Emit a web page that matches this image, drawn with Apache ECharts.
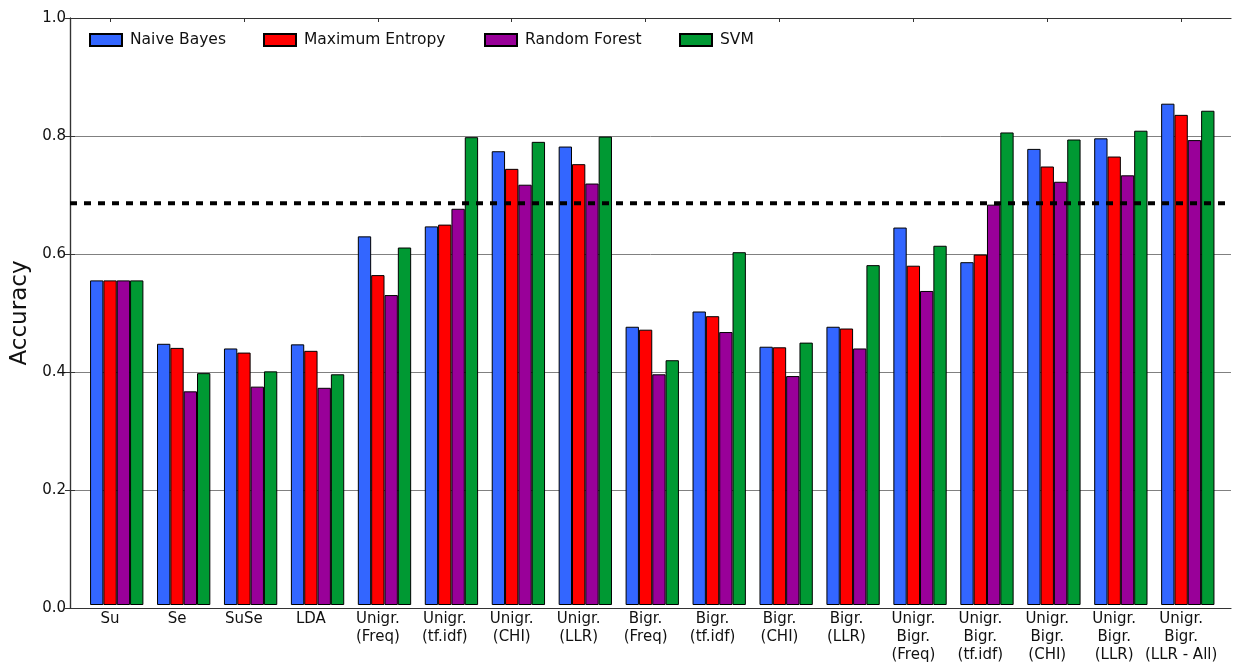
<!DOCTYPE html>
<html>
<head>
<meta charset="utf-8">
<script src="https://cdn.jsdelivr.net/npm/echarts@6/dist/echarts.min.js"></script>
<style>
  html, body { margin: 0; padding: 0; background: #fff; }
  #main { width: 1235px; height: 664px; }
</style>
</head>
<body>
<div id="main"></div>
<script>
// categories on the x axis
var categories = [
  'Su', 'Se', 'SuSe', 'LDA',
  'Unigr.\n(Freq)', 'Unigr.\n(tf.idf)', 'Unigr.\n(CHI)', 'Unigr.\n(LLR)',
  'Bigr.\n(Freq)', 'Bigr.\n(tf.idf)', 'Bigr.\n(CHI)', 'Bigr.\n(LLR)',
  'Unigr.\nBigr.\n(Freq)', 'Unigr.\nBigr.\n(tf.idf)', 'Unigr.\nBigr.\n(CHI)',
  'Unigr.\nBigr.\n(LLR)', 'Unigr.\nBigr.\n(LLR - All)'
];

var naiveBayes     = [0.553, 0.445, 0.437, 0.444, 0.628, 0.645, 0.773, 0.781, 0.474, 0.500, 0.440, 0.474, 0.643, 0.584, 0.777, 0.795, 0.854];
var maxEntropy     = [0.553, 0.438, 0.430, 0.433, 0.562, 0.648, 0.743, 0.751, 0.469, 0.492, 0.439, 0.471, 0.578, 0.597, 0.747, 0.764, 0.835];
var randomForest   = [0.553, 0.364, 0.372, 0.370, 0.528, 0.675, 0.716, 0.718, 0.393, 0.465, 0.390, 0.437, 0.535, 0.682, 0.721, 0.732, 0.792];
var svm            = [0.553, 0.395, 0.398, 0.393, 0.609, 0.797, 0.789, 0.798, 0.417, 0.601, 0.447, 0.579, 0.612, 0.805, 0.793, 0.808, 0.842];

var baseline = 0.686;   // dashed reference line

var names  = ['Naive Bayes', 'Maximum Entropy', 'Random Forest', 'SVM'];
var colors = ['#3366ff', '#ff0000', '#990099', '#009933'];
var values = [naiveBayes, maxEntropy, randomForest, svm];

var chart = echarts.init(document.getElementById('main'));
var font = 'DejaVu Sans';
var spine = '#333';

var barSeries = values.map(function (v, i) {
  return {
    name: names[i],
    type: 'bar',
    xAxisIndex: 1,
    yAxisIndex: 2,
    data: v,
    barWidth: 13.33,
    barGap: '0%',
    z: 3,
    itemStyle: { color: colors[i], borderColor: '#000', borderWidth: 1 }
  };
});

// empty slot first, so the group sits right of the tick like in matplotlib
var spacer = {
  name: 'spacer',
  type: 'bar',
  xAxisIndex: 1,
  yAxisIndex: 2,
  data: categories.map(function () { return '-'; }),
  barWidth: 13.33,
  barGap: '0%',
  silent: true,
  itemStyle: { color: 'transparent' }
};

var legendLeft = [84, 258, 479, 674];

var option = {
  backgroundColor: '#fff',
  animation: false,
  textStyle: { fontFamily: font },
  legend: names.map(function (n, i) {
    return {
      data: [n],
      left: legendLeft[i],
      top: 27,
      itemWidth: 32,
      itemHeight: 12,
      icon: 'rect',
      selectedMode: false,
      textStyle: { fontFamily: font, fontSize: 15.5, color: '#111', padding: [0, 0, 0, 3] }
    };
  }),
  grid: [
    { left: 70, right: 4, top: 18, bottom: 56 },
    { left: 76.6, right: 20.4, top: 18, bottom: 56 }
  ],
  xAxis: [
    {
      gridIndex: 0, type: 'value', min: 0, max: 1, position: 'bottom',
      axisLine: { show: true, onZero: false, lineStyle: { color: spine, width: 1.2 } },
      axisTick: { show: false }, axisLabel: { show: false }, splitLine: { show: false }
    },
    {
      gridIndex: 1, type: 'category', data: categories, position: 'bottom',
      axisLine: { show: false },
      axisTick: { show: true, inside: true, length: 4, alignWithLabel: true, lineStyle: { color: spine } },
      axisLabel: { interval: 0, margin: 5, fontFamily: font, fontSize: 15, lineHeight: 18, color: '#111' },
      splitLine: { show: false }
    },
    {
      gridIndex: 1, type: 'category', data: categories, position: 'top',
      axisLine: { show: false },
      axisTick: { show: true, inside: true, length: 4, alignWithLabel: true, lineStyle: { color: spine } },
      axisLabel: { show: false }, splitLine: { show: false }
    },
    {
      gridIndex: 0, type: 'value', min: 0, max: 1, position: 'top',
      axisLine: { show: true, onZero: false, lineStyle: { color: spine, width: 1.2 } },
      axisTick: { show: false }, axisLabel: { show: false }, splitLine: { show: false }
    }
  ],
  yAxis: [
    {
      gridIndex: 0, type: 'value', min: 0, max: 1, interval: 0.2, position: 'left',
      name: 'Accuracy', nameLocation: 'middle', nameGap: 34,
      nameTextStyle: { fontFamily: font, fontSize: 23, color: '#111' },
      axisLine: { show: true, lineStyle: { color: spine, width: 1.2 } },
      axisTick: { show: true, inside: true, length: 5, lineStyle: { color: spine } },
      axisLabel: {
        margin: 4, fontFamily: font, fontSize: 15, color: '#111',
        formatter: function (v) { return v.toFixed(1); }
      },
      splitLine: { show: true, lineStyle: { color: '#808080', width: 1 } }
    },
    {
      gridIndex: 0, type: 'value', min: 0, max: 1, interval: 0.2, position: 'right',
      axisLine: { show: true, lineStyle: { color: spine, width: 1.2 } },
      axisTick: { show: true, inside: true, length: 5, lineStyle: { color: spine } },
      axisLabel: { show: false }, splitLine: { show: false }
    },
    {
      gridIndex: 1, type: 'value', min: 0, max: 1, show: false
    }
  ],
  series: [spacer].concat(barSeries).concat([{
    name: 'baseline',
    type: 'line',
    xAxisIndex: 0,
    yAxisIndex: 0,
    data: [[0, baseline], [1, baseline]],
    symbol: 'none',
    silent: true,
    z: 5,
    lineStyle: { color: '#000', width: 4, type: [7, 7] }
  }])
};

chart.setOption(option);
</script>
</body>
</html>
